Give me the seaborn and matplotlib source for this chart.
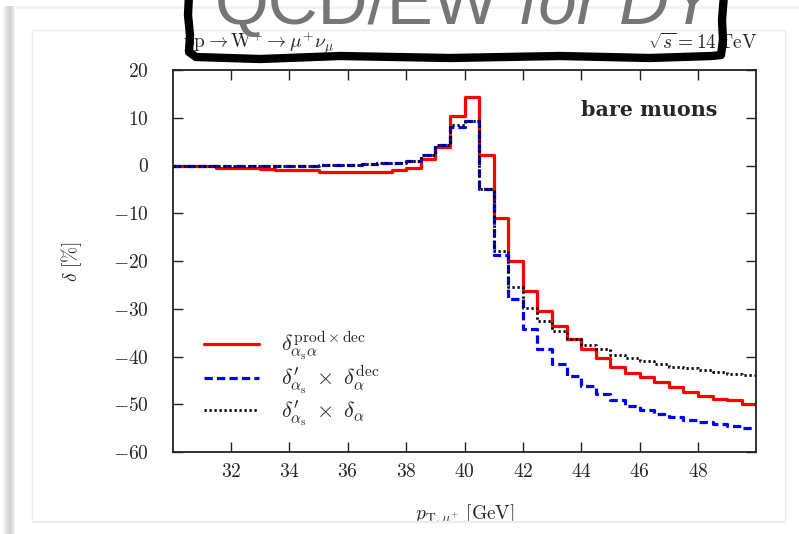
import numpy as np
import pandas as pd
import matplotlib
matplotlib.use("Agg")
import matplotlib.pyplot as plt
from matplotlib.lines import Line2D
from matplotlib.patches import Rectangle
import seaborn as sns

# ---------------- data (bin edges 30..50 GeV, width 0.5) ----------------
bin_edges = [30.0 + 0.5 * i for i in range(41)]
red_vals = [0.0, 0.0, 0.0, -0.5, -0.5, -0.5, -0.8, -0.9, -1.0, -1.0,
            -1.3, -1.4, -1.4, -1.4, -1.3, -1.0, -0.5, 1.4, 3.8, 10.3,
            14.3, 2.1, -11.0, -19.9, -26.2, -30.5, -33.7, -36.3, -38.4, -40.3,
            -42.1, -43.5, -44.3, -45.4, -46.4, -47.5, -48.2, -48.9, -49.2, -49.9]
blue_vals = [0.0, 0.0, 0.0, 0.0, 0.0, 0.0, 0.0, 0.0, 0.0, 0.0,
             0.1, 0.1, 0.2, 0.3, 0.5, 0.6, 1.0, 2.1, 4.2, 8.0,
             9.3, -4.9, -18.8, -27.9, -34.2, -38.4, -41.5, -44.0, -46.1, -47.8,
             -49.2, -50.3, -51.3, -52.0, -52.7, -53.3, -53.8, -54.1, -54.5, -54.9]
black_vals = [0.0, 0.0, 0.0, 0.0, 0.0, 0.0, 0.0, 0.0, 0.0, 0.0,
              0.1, 0.1, 0.2, 0.3, 0.5, 0.6, 1.0, 2.1, 4.2, 8.4,
              9.4, -4.9, -17.9, -25.5, -29.8, -32.6, -34.7, -36.3, -37.5, -38.4,
              -39.6, -40.3, -41.0, -41.5, -42.1, -42.4, -42.8, -43.3, -43.6, -43.8]
series_labels = [r"$\delta^{\mathrm{prod}\times\mathrm{dec}}_{\alpha_{\mathrm{s}}\alpha}$",
                 r"$\delta^{\prime}_{\alpha_{\mathrm{s}}}\;\times\;\delta^{\mathrm{dec}}_{\alpha}$",
                 r"$\delta^{\prime}_{\alpha_{\mathrm{s}}}\;\times\;\delta_{\alpha}$"]
x_ticks = [32, 34, 36, 38, 40, 42, 44, 46, 48]
y_ticks = [20, 10, 0, -10, -20, -30, -40, -50, -60]

# ---------------- style ----------------
sns.set_style("ticks")
plt.rcParams["font.family"] = ["cmr10", "DejaVu Serif"]
plt.rcParams["mathtext.fontset"] = "cm"
plt.rcParams["axes.formatter.use_mathtext"] = True
plt.rcParams["axes.unicode_minus"] = True

W, H = 799, 534
fig = plt.figure(figsize=(W / 100, H / 100), dpi=100)
fig.patch.set_facecolor("white")

def fx(px):
    return px / W

def fy(py):
    return 1 - py / H

ax_l, ax_r, ax_t, ax_b = 172.6, 756.4, 70.0, 452.0
ax = fig.add_axes([fx(ax_l), fy(ax_b), (ax_r - ax_l) / W, (ax_b - ax_t) / H])

def step_df(vals):
    return pd.DataFrame({"x": bin_edges, "y": list(vals) + [vals[-1]]})

sns.lineplot(data=step_df(red_vals), x="x", y="y", ax=ax, color="#ff0000",
             lw=2.3, drawstyle="steps-post", estimator=None, sort=False,
             label=series_labels[0])
sns.lineplot(data=step_df(blue_vals), x="x", y="y", ax=ax, color="#0000ff",
             lw=2.3, drawstyle="steps-post", estimator=None, sort=False,
             linestyle=(0, (2.6, 1.3)), label=series_labels[1])
sns.lineplot(data=step_df(black_vals), x="x", y="y", ax=ax, color="black",
             lw=2.0, drawstyle="steps-post", estimator=None, sort=False,
             linestyle=(0, (0.8, 1.0)), label=series_labels[2])

ax.set_xlim(30, 50)
ax.set_ylim(-60, 20)
ax.set_xticks(x_ticks)
ax.set_yticks(y_ticks)
ax.tick_params(axis="both", direction="in", length=7, width=1.0,
               top=True, right=True, labelsize=14, color="#222222")
ax.tick_params(axis="y", pad=17)
ax.tick_params(axis="x", pad=8)
for s in ax.spines.values():
    s.set_linewidth(1.3)
    s.set_color("#222222")

ax.set_xlabel(r"$p_{\mathrm{T},\mu^{+}}\ [\mathrm{GeV}]$", fontsize=14, va="top")
ax.xaxis.set_label_coords(0.5, (ax_b - 502) / (ax_b - ax_t))
ax.set_ylabel(r"$\delta\ [\%]$", fontsize=14)
ax.yaxis.set_label_coords((84 - ax_l) / (ax_r - ax_l), 0.5)

bm = ax.text(48.68, 11.7, "bare muons", family="DejaVu Serif", weight="bold",
             fontsize=12, ha="right", va="center")

leg = ax.legend(loc="center left", bbox_to_anchor=(0.039, 0.191), frameon=False,
                fontsize=16, handlelength=2.45, handletextpad=1.0,
                labelspacing=0.08, borderaxespad=0)

# subtitle above the axes
fig.text(fx(183), fy(49), r"$\mathrm{pp}\rightarrow\mathrm{W}^{+}\rightarrow\mu^{+}\nu_{\mu}$",
         fontsize=14, ha="left", va="baseline")
fig.text(fx(757), fy(49), r"$\sqrt{s}=14\,\mathrm{TeV}$",
         fontsize=14, ha="right", va="baseline")

# chart image frame on slide
fig.patches.append(Rectangle((fx(32), fy(521)), fx(785) - fx(32), fy(30) - fy(521),
                             transform=fig.transFigure, fill=False,
                             edgecolor="#ececec", lw=1.0, zorder=1))
fig.patches.append(Rectangle((fx(32), 0), fx(785) - fx(32), fy(522),
                             transform=fig.transFigure, facecolor="white",
                             edgecolor="none", zorder=5))
fig.add_artist(Line2D([fx(32), fx(785)], [fy(521.5), fy(521.5)],
                      transform=fig.transFigure, color="#ececec", lw=1.0, zorder=6))

# slide shadow edges
for i, c in enumerate(["#f4f4f4", "#e6e6e6", "#d8d8d8", "#d0d0d0", "#dadada", "#eeeeee"]):
    fig.patches.append(Rectangle((fx(3 + 2 * i), 0), 2 / W, fy(6),
                                 transform=fig.transFigure, facecolor=c,
                                 edgecolor="none", zorder=2))
fig.patches.append(Rectangle((fx(14), fy(9)), 1 - fx(14), 3 / H,
                             transform=fig.transFigure, facecolor="#f3f3f3",
                             edgecolor="none", zorder=2))

# slide title (partly cut at top)
t1 = fig.text(fx(215), fy(24), "QCD/EW", family="Liberation Sans", fontsize=48,
              color="#767676", ha="left", va="baseline", zorder=7)
t2 = fig.text(fx(400), fy(24), "for DY", family="Liberation Sans",
              style="italic", fontsize=48, color="#767676", ha="left",
              va="baseline", zorder=7)

fig.canvas.draw()
r = fig.canvas.get_renderer()
bb = bm.get_window_extent(r)
bm.set_fontsize(12 * 136.0 / bb.width)
w1 = t1.get_window_extent(r).width
w2 = t2.get_window_extent(r).width
gap = 0.28 * 48 * 100 / 72
scale = 500.0 / (w1 + gap + w2)
fs = 48 * scale
t1.set_fontsize(fs)
t2.set_fontsize(fs)
t2.set_x(fx(215 + (w1 + gap) * scale))

# hand drawn box around title
bx = [189, 188, 190, 189, 196, 260, 340, 450, 560, 650, 712, 721, 723, 722, 724]
by = [-5, 15, 35, 52, 57, 59, 56, 58, 56, 58, 56, 55, 40, 20, -5]
fig.add_artist(Line2D([fx(v) for v in bx], [fy(v) for v in by],
                      transform=fig.transFigure, color="black", lw=6.0,
                      solid_capstyle="round", solid_joinstyle="round", zorder=8))

fig.savefig("out.png", dpi=100, facecolor="white")
